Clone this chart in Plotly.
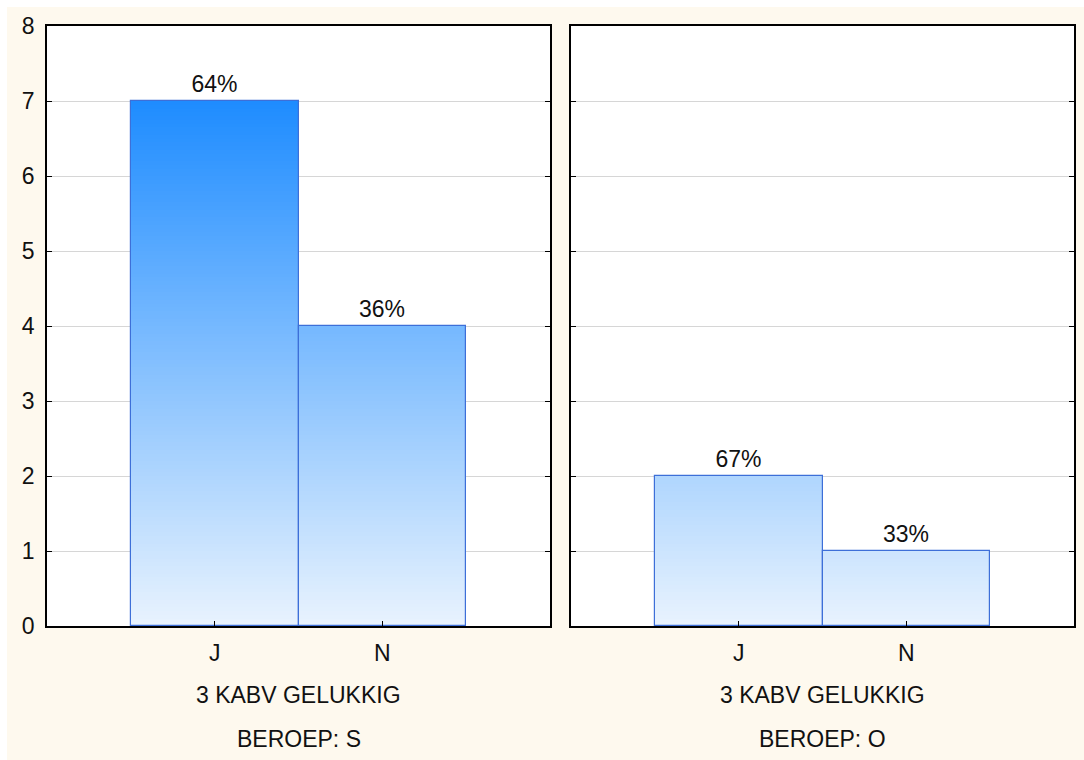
import plotly.graph_objects as go

# Frequencies of "3 KABV GELUKKIG" per occupation group
categories = ["J", "N"]
counts_s = [7, 4]   # BEROEP: S
counts_o = [2, 1]   # BEROEP: O
y_ticks = [0, 1, 2, 3, 4, 5, 6, 7, 8]

W, H = 1084, 760
FONT = "Liberation Sans, Arial, sans-serif"
FS = 23
CREAM = "#FEF9EE"
EDGE = "#3D6FD8"

# vertical colour ramp: light at 0, saturated blue at 7
C_LOW = (233, 243, 254)
C_HIGH = (30, 140, 255)
RAMP_TOP = 7.0
STEP = 0.05


def ramp(v):
    t = max(0.0, min(1.0, v / RAMP_TOP))
    r, g, b = (round(lo + (hi - lo) * t) for lo, hi in zip(C_LOW, C_HIGH))
    return f"rgb({r},{g},{b})"


def gradient_trace(counts, xa, ya):
    xs, hs, bases, cols = [], [], [], []
    for cat, val in zip(categories, counts):
        n = int(round(val / STEP))
        for i in range(n):
            b = i * STEP
            xs.append(cat)
            hs.append(STEP * 1.02 if i < n - 1 else STEP)
            bases.append(b)
            cols.append(ramp(b + STEP / 2))
    return go.Bar(x=xs, y=hs, base=bases, width=1.0,
                  marker=dict(color=cols, line=dict(width=0)),
                  xaxis=xa, yaxis=ya, hoverinfo="skip", showlegend=False)


def outline_trace(counts, xa, ya):
    total = sum(counts)
    labels = [f"{round(100 * c / total)}%" for c in counts]
    return go.Bar(x=categories, y=counts, width=1.0, text=labels,
                  textposition="outside", cliponaxis=False,
                  textfont=dict(family=FONT, size=FS, color="#111111"),
                  marker=dict(color="rgba(0,0,0,0)", line=dict(color=EDGE, width=1.2)),
                  xaxis=xa, yaxis=ya, showlegend=False)


fig = go.Figure()
fig.add_trace(gradient_trace(counts_s, "x", "y"))
fig.add_trace(outline_trace(counts_s, "x", "y"))
fig.add_trace(gradient_trace(counts_o, "x2", "y2"))
fig.add_trace(outline_trace(counts_o, "x2", "y2"))

ydom = [1 - 626 / H, 1 - 26 / H]
dom1 = [47 / W, 550 / W]
dom2 = [571 / W, 1074 / W]

xcommon = dict(type="category", range=[-1, 2], showgrid=False, showline=True,
               linecolor="black", linewidth=1.5, mirror=True, ticks="inside",
               ticklen=5, tickcolor="black", tickwidth=1, automargin=False,
               tickfont=dict(family=FONT, size=FS, color="#111111"),
               ticklabelstandoff=6, zeroline=False)
ycommon = dict(range=[0, 8], tickvals=y_ticks, showgrid=True, gridcolor="#D6D6D6",
               gridwidth=1, showline=True, linecolor="black", linewidth=1.5,
               mirror="ticks", ticks="inside", ticklen=5, tickcolor="black",
               tickwidth=1, automargin=False,
               tickfont=dict(family=FONT, size=FS, color="#111111"),
               zeroline=False)

# thin white strip along the top and left edges of the cream page
edge_strips = [
    dict(type="rect", xref="paper", yref="paper", x0=0, x1=1,
         y0=1 - 7 / H, y1=1, fillcolor="white", line=dict(width=0), layer="below"),
    dict(type="rect", xref="paper", yref="paper", x0=0, x1=7 / W,
         y0=0, y1=1, fillcolor="white", line=dict(width=0), layer="below"),
]

fig.update_layout(
    width=W, height=H,
    margin=dict(l=0, r=0, t=0, b=0),
    paper_bgcolor=CREAM,
    plot_bgcolor="white",
    barmode="overlay",
    bargap=0,
    xaxis=dict(domain=dom1, anchor="y", **xcommon),
    yaxis=dict(domain=ydom, anchor="x", ticklabelstandoff=6, **ycommon),
    xaxis2=dict(domain=dom2, anchor="y2", **xcommon),
    yaxis2=dict(domain=ydom, anchor="x2", showticklabels=False, **ycommon),
    shapes=edge_strips,
)

groups = ["S", "O"]
for dom, grp in zip([dom1, dom2], groups):
    cx = (dom[0] + dom[1]) / 2
    fig.add_annotation(x=cx, y=1 - 695 / H, xref="paper", yref="paper",
                       text="3 KABV GELUKKIG", showarrow=False,
                       font=dict(family=FONT, size=FS, color="#111111"),
                       xanchor="center", yanchor="middle")
    fig.add_annotation(x=cx, y=1 - 739 / H, xref="paper", yref="paper",
                       text=f"BEROEP: {grp}", showarrow=False,
                       font=dict(family=FONT, size=FS, color="#111111"),
                       xanchor="center", yanchor="middle")

fig.write_html("out.html")
